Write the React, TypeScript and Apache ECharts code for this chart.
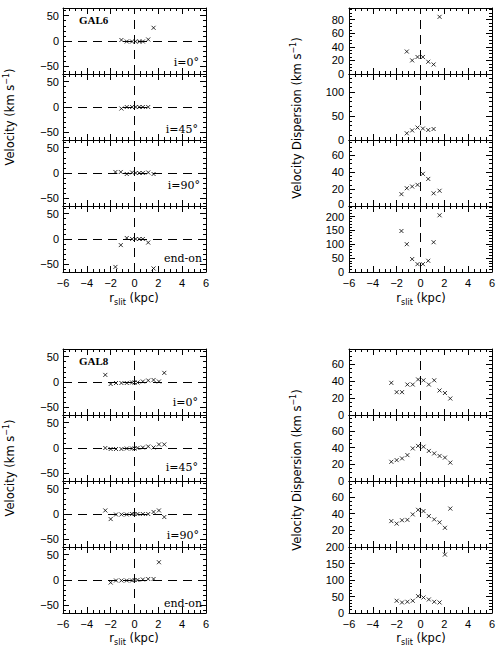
import React, { useEffect, useRef } from "react";
import * as echarts from "echarts";

type Pt = [number, number];

// ---------------- data ----------------
const xTickLabels = [-6, -4, -2, 0, 2, 4, 6];
const panelTags = ["i=0°", "i=45°", "i=90°", "end-on"];
const galaxyNames = ["GAL6", "GAL8"];

// GAL6 line-of-sight velocity (km/s) vs r_slit (kpc)
const gal6VelI0: Pt[] = [[-1.1, 2], [-0.65, -1], [-0.2, -1], [0.1, -1], [0.4, -1], [0.7, -1], [1.15, 3], [1.6, 26]];
const gal6VelI45: Pt[] = [[-1.1, -3], [-0.65, 0], [-0.2, 0], [0.1, 0], [0.4, 0], [0.7, 0], [1.15, 0]];
const gal6VelI90: Pt[] = [[-1.6, 2], [-1.15, 2], [-0.65, -2], [-0.2, 1], [0.1, 0], [0.4, 0], [0.7, 0], [1.15, 1], [1.6, -2]];
const gal6VelEnd: Pt[] = [[-1.6, -55], [-1.15, -12], [-0.65, 2], [-0.2, 0], [0.1, 0], [0.4, 0], [0.7, 0], [1.15, -7], [1.6, -58]];

// GAL6 velocity dispersion (km/s)
const gal6DispI0: Pt[] = [[-1.15, 33], [-0.7, 20], [-0.25, 25], [0.2, 25], [0.65, 18], [1.1, 14], [1.6, 84]];
const gal6DispI45: Pt[] = [[-1.15, 14], [-0.7, 20], [-0.25, 26], [0.2, 24], [0.65, 21], [1.1, 23]];
const gal6DispI90: Pt[] = [[-1.6, 14], [-1.15, 21], [-0.7, 23], [-0.25, 25], [0.2, 38], [0.65, 32], [1.1, 15], [1.6, 18]];
const gal6DispEnd: Pt[] = [[-1.6, 146], [-1.15, 99], [-0.7, 46], [-0.25, 28], [0.2, 28], [0.65, 40], [1.1, 106], [1.6, 202]];

// GAL8 line-of-sight velocity (km/s)
const gal8VelI0: Pt[] = [[-2.45, 14], [-2.0, -4], [-1.55, -2], [-1.1, -2], [-0.65, -2], [-0.2, -1], [0.0, -1], [0.25, -1], [0.7, 1], [1.15, 3], [1.6, 4], [2.05, 1], [2.5, 18]];
const gal8VelI45: Pt[] = [[-2.45, 0], [-2.0, -2], [-1.55, -2], [-1.1, -2], [-0.65, -1], [-0.2, -1], [0.0, -1], [0.25, 0], [0.7, 1], [1.15, 3], [1.6, 1], [2.05, 7], [2.5, 7]];
const gal8VelI90: Pt[] = [[-2.45, 7], [-2.0, -10], [-1.55, -1], [-1.1, -1], [-0.65, -1], [-0.2, 0], [0.0, 0], [0.25, 0], [0.7, 0], [1.15, 0], [1.6, 4], [2.05, 7], [2.5, -6]];
const gal8VelEnd: Pt[] = [[-2.0, -5], [-1.55, -1], [-1.1, -1], [-0.65, -1], [-0.2, -1], [0.0, 0], [0.25, 0], [0.7, 1], [1.15, 2], [1.6, 2], [2.05, 35]];

// GAL8 velocity dispersion (km/s)
const gal8DispI0: Pt[] = [[-2.45, 38], [-2.0, 27], [-1.55, 27], [-1.1, 36], [-0.65, 36], [-0.2, 42], [0.25, 41], [0.7, 36], [1.15, 41], [1.6, 29], [2.05, 26], [2.5, 19.5]];
const gal8DispI45: Pt[] = [[-2.45, 23], [-2.0, 25], [-1.55, 27], [-1.1, 31], [-0.65, 39], [-0.2, 42], [0.25, 41], [0.7, 36], [1.15, 33], [1.6, 30], [2.05, 28], [2.5, 22]];
const gal8DispI90: Pt[] = [[-2.45, 31], [-2.0, 28], [-1.55, 32], [-1.1, 32.5], [-0.65, 39], [-0.2, 44.5], [0.25, 43], [0.7, 37], [1.15, 33], [1.6, 29.5], [2.05, 23], [2.5, 46]];
const gal8DispEnd: Pt[] = [[-2.0, 37], [-1.55, 32], [-1.1, 34], [-0.65, 37], [-0.2, 51], [0.25, 47], [0.7, 41], [1.15, 34], [1.6, 32], [2.05, 177]];

// axis ranges and tick values
const xRange = [-6, 6];
const velRange = [-65, 65];
const velTicks = [-50, 0, 50];
const velMinorStep = 10;

const gal6DispRanges = [[0, 97], [0, 138], [0, 78], [0, 235]];
const gal6DispTicks = [[0, 20, 40, 60, 80], [0, 50, 100], [0, 20, 40, 60], [0, 50, 100, 150, 200]];
const gal6DispLabels = [[0, 20, 40, 60, 80], [0, 50, 100], [0, 20, 40, 60], [0, 50, 100, 150, 200]];
const gal6DispMinor = [5, 10, 5, 10];

const gal8DispRanges = [[0, 78], [0, 79], [0, 79], [0, 200]];
const gal8DispTicks = [[0, 20, 40, 60], [0, 20, 40, 60], [0, 20, 40, 60], [0, 50, 100, 150, 200]];
const gal8DispLabels = [[0, 20, 40, 60], [0, 20, 40, 60], [20, 40, 60], [0, 50, 100, 150, 200]];
const gal8DispMinor = [5, 5, 5, 10];

// ---------------- helpers ----------------
const BLACK = "#000";
const fmt = (v: number) => (v < 0 ? "\u2212" + Math.abs(v) : String(v));

function minorVals(min: number, max: number, step: number, majors: number[]) {
  const out: number[] = [];
  const start = Math.ceil(min / step) * step;
  for (let v = start; v <= max + 1e-9; v += step) {
    const r = Math.round(v * 1000) / 1000;
    if (!majors.some((m) => Math.abs(m - r) < 1e-6)) out.push(r);
  }
  return out;
}

function buildOption() {
  const grid: any[] = [];
  const xAxis: any[] = [];
  const yAxis: any[] = [];
  const series: any[] = [];

  const PW = 143;
  const PH = 66;
  const colLeft = [63, 349];
  const groupTop = [8, 349];

  const labelStyle = { color: BLACK, fontSize: 11, fontFamily: "Liberation Sans" };

  function addPanel(
    col: number,
    grp: number,
    row: number,
    data: Pt[],
    yr: number[],
    majors: number[],
    labels: number[],
    minorStep: number,
    hLine: boolean,
    nudge?: { value: number; up: boolean }
  ) {
    const g = grid.length;
    grid.push({ left: colLeft[col], top: groupTop[grp] + row * PH, width: PW, height: PH, containLabel: false });

    const xi = xAxis.length;
    const showX = row === 3;
    for (const pos of ["bottom", "top"]) {
      xAxis.push({
        type: "value",
        gridIndex: g,
        position: pos,
        min: xRange[0],
        max: xRange[1],
        interval: 2,
        axisLine: { show: true, onZero: false, lineStyle: { color: BLACK, width: 1 } },
        axisTick: { show: true, inside: true, length: 6, lineStyle: { color: BLACK, width: 1 } },
        minorTick: { show: true, splitNumber: 4, length: 3, lineStyle: { color: BLACK, width: 1 } },
        splitLine: { show: false },
        minorSplitLine: { show: false },
        axisLabel: {
          show: pos === "bottom" && showX,
          ...labelStyle,
          margin: 5,
          formatter: fmt,
          customValues: xTickLabels,
        },
      });
    }

    const yi = yAxis.length;
    const minors = minorVals(yr[0], yr[1], minorStep, majors);
    const yFmt = nudge
      ? (v: number) => (Math.abs(v - nudge.value) < 1e-6 ? "{n|" + fmt(v) + "}" : fmt(v))
      : fmt;
    const rich = nudge
      ? {
          n: {
            ...labelStyle,
            padding: nudge.up ? [0, 0, 4, 0] : [3, 0, 0, 0],
          },
        }
      : undefined;
    for (const pos of ["left", "right"]) {
      yAxis.push({
        type: "value",
        gridIndex: g,
        position: pos,
        min: yr[0],
        max: yr[1],
        splitLine: { show: false },
        axisLine: { show: true, onZero: false, lineStyle: { color: BLACK, width: 1 } },
        axisTick: { show: true, inside: true, length: 6, customValues: majors, lineStyle: { color: BLACK, width: 1 } },
        axisLabel: {
          show: pos === "left",
          customValues: labels,
          ...labelStyle,
          margin: col === 0 ? 4 : 5,
          formatter: yFmt,
          ...(rich ? { rich } : {}),
        },
      });
      yAxis.push({
        type: "value",
        gridIndex: g,
        position: pos,
        min: yr[0],
        max: yr[1],
        splitLine: { show: false },
        axisLine: { show: false, onZero: false },
        axisTick: { show: true, inside: true, length: 3, customValues: minors, lineStyle: { color: BLACK, width: 1 } },
        axisLabel: { show: false },
      });
    }

    series.push({
      type: "scatter",
      xAxisIndex: xi,
      yAxisIndex: yi,
      data,
      symbol: "path://M0,0L10,10M10,0L0,10",
      symbolSize: 4,
      itemStyle: { color: "rgba(0,0,0,0)", borderColor: BLACK, borderWidth: 1 },
      silent: true,
      markLine: {
        silent: true,
        symbol: ["none", "none"],
        label: { show: false },
        lineStyle: { color: BLACK, type: [9, 6], width: 1 },
        data: hLine ? [{ xAxis: 0 }, { yAxis: 0 }] : [{ xAxis: 0 }],
      },
    });
  }

  const gal6Vel = [gal6VelI0, gal6VelI45, gal6VelI90, gal6VelEnd];
  const gal6Disp = [gal6DispI0, gal6DispI45, gal6DispI90, gal6DispEnd];
  const gal8Vel = [gal8VelI0, gal8VelI45, gal8VelI90, gal8VelEnd];
  const gal8Disp = [gal8DispI0, gal8DispI45, gal8DispI90, gal8DispEnd];

  for (let r = 0; r < 4; r++) {
    const nudge = r === 2 ? { value: 0, up: true } : r === 3 ? { value: 200, up: false } : undefined;
    addPanel(0, 0, r, gal6Vel[r], velRange, velTicks, velTicks, velMinorStep, true);
    addPanel(1, 0, r, gal6Disp[r], gal6DispRanges[r], gal6DispTicks[r], gal6DispLabels[r], gal6DispMinor[r], false, nudge);
    addPanel(0, 1, r, gal8Vel[r], velRange, velTicks, velTicks, velMinorStep, true);
    addPanel(1, 1, r, gal8Disp[r], gal8DispRanges[r], gal8DispTicks[r], gal8DispLabels[r], gal8DispMinor[r], false);
  }

  // ----- text graphics -----
  const titleRich = {
    a: { fontSize: 11.5, fontFamily: "DejaVu Sans", fill: BLACK, lineHeight: 16 },
    s: { fontSize: 8, fontFamily: "DejaVu Sans", fill: BLACK, verticalAlign: "top" },
    b: { fontSize: 8, fontFamily: "DejaVu Sans", fill: BLACK, verticalAlign: "bottom" },
  };
  const velTitle = "{a|Velocity (km s}{s|\u22121}{a|)}";
  const dispTitle = "{a|Velocity Dispersion (km s}{s|\u22121}{a|)}";
  const xTitle = "{a|r}{b|slit}{a| (kpc)}";

  const graphic: any[] = [];
  const rotText = (x: number, y: number, text: string) => ({
    type: "text",
    x,
    y,
    rotation: Math.PI / 2,
    silent: true,
    style: { text, rich: titleRich, align: "center", verticalAlign: "middle", textAlign: "center", textVerticalAlign: "middle" },
  });
  const plainText = (x: number, y: number, text: string) => ({
    type: "text",
    x,
    y,
    silent: true,
    style: { text, rich: titleRich, align: "center", verticalAlign: "middle", textAlign: "center", textVerticalAlign: "middle" },
  });
  graphic.push(rotText(10, 117, velTitle));
  graphic.push(rotText(10, 468, velTitle));
  graphic.push(rotText(297, 118, dispTitle));
  graphic.push(rotText(297, 470, dispTitle));
  graphic.push(plainText(134, 298, xTitle));
  graphic.push(plainText(421, 298, xTitle));
  graphic.push(plainText(134, 638, xTitle));
  graphic.push(plainText(421, 638, xTitle));

  const nameY = [20, 361];
  galaxyNames.forEach((n, i) => {
    graphic.push({
      type: "text",
      x: 79,
      y: nameY[i],
      silent: true,
      style: {
        text: n,
        fill: BLACK,
        font: 'bold 11px "Liberation Serif"',
        align: "left",
        verticalAlign: "middle",
        textAlign: "left",
        textVerticalAlign: "middle",
      },
    });
  });

  const tagY = [
    [62, 129, 185, 258],
    [402, 467, 535, 603],
  ];
  const tagX = [
    [199, 198, 200, 202],
    [198, 198, 199, 202],
  ];
  for (let gI = 0; gI < 2; gI++) {
    panelTags.forEach((t, r) => {
      graphic.push({
        type: "text",
        x: tagX[gI][r],
        y: tagY[gI][r],
        silent: true,
        style: {
          text: t,
          fill: BLACK,
          font: '11px "DejaVu Serif"',
          align: "right",
          verticalAlign: "middle",
          textAlign: "right",
          textVerticalAlign: "middle",
        },
      });
    });
  }

  return {
    animation: false,
    backgroundColor: "#fff",
    grid,
    xAxis,
    yAxis,
    series,
    graphic,
  };
}

export default function App() {
  const ref = useRef<HTMLDivElement>(null);
  useEffect(() => {
    document.body.style.margin = "0";
    if (!ref.current) return;
    const chart = echarts.init(ref.current, undefined, { renderer: "svg" });
    chart.setOption(buildOption() as any);
    return () => chart.dispose();
  }, []);
  return <div ref={ref} style={{ width: 504, height: 645, position: "absolute", left: 0, top: 0, background: "#fff" }} />;
}
